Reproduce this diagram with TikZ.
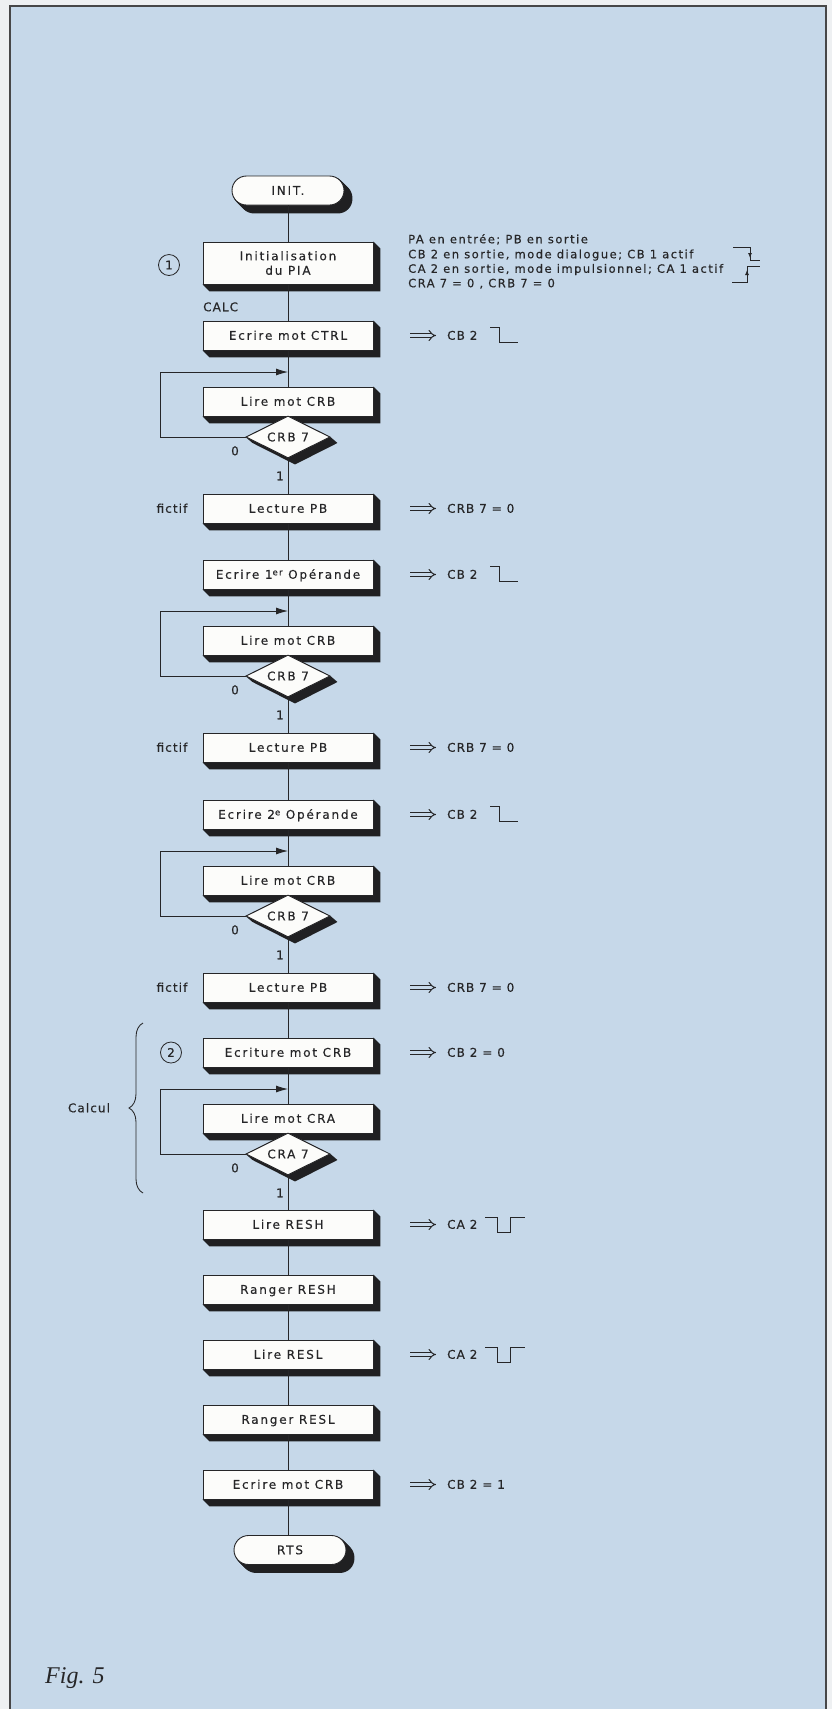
\documentclass[tikz,border=0pt]{standalone}
\usepackage{fontspec}
\setmainfont[LetterSpace=9,FakeBold=0.35]{DejaVu Sans}
\newfontfamily\boxfont[LetterSpace=15,FakeBold=0.35]{DejaVu Sans}
\newfontfamily\notefont[LetterSpace=13,FakeBold=0.35]{DejaVu Sans}
\newfontfamily\figfont{Liberation Serif}
\usetikzlibrary{shapes.geometric,arrows.meta,decorations.pathreplacing,calc}
\pgfdeclarelayer{bgfill}
\pgfdeclarelayer{shadowlayer}
\pgfsetlayers{bgfill,shadowlayer,main}
\definecolor{bgblue}{RGB}{198,216,233}
\definecolor{outsidec}{RGB}{238,240,242}
\definecolor{ink}{RGB}{38,38,40}
\definecolor{shadowc}{RGB}{32,32,34}
\definecolor{paper}{RGB}{252,252,250}
\newcommand\boxshadow[1]{%
  \begin{pgfonlayer}{shadowlayer}
  \fill[shadowc] (#1.north east) -- ++(7,7) -- ($(#1.south east)+(7,7)$) -- ($(#1.south west)+(7,7)$) -- (#1.south west) -- (#1.south east) -- cycle;
  \end{pgfonlayer}}
\newcommand\decshadow[1]{%
  \begin{pgfonlayer}{shadowlayer}
  \fill[shadowc] (#1.north) -- (#1.east) -- ($(#1.east)+(7,6)$) -- ($(#1.south)+(7,6)$) -- ($(#1.west)+(7,6)$) -- (#1.west) -- cycle;
  \end{pgfonlayer}}
\newcommand\termshadow[1]{%
  \begin{pgfonlayer}{shadowlayer}
  \foreach \s in {1,...,8}{\fill[shadowc, rounded corners=14.5pt] ($(#1.north west)+(\s,\s)$) rectangle ($(#1.south east)+(\s,\s)$);}
  \end{pgfonlayer}}
\begin{document}
\begin{tikzpicture}[x=1pt,y=-1pt,
  font=\fontsize{12}{15}\selectfont,
  proc/.style={draw=ink, line width=0.9pt, fill=paper, minimum width=170pt, minimum height=29pt, inner sep=0pt, text=ink, text height=8.5pt, text depth=0pt, font=\boxfont\fontsize{12}{15}\selectfont},
  term/.style={proc, minimum width=112pt, minimum height=29pt, rounded corners=14.5pt},
  dec/.style={draw=ink, line width=0.9pt, fill=paper, shape=diamond, aspect=2, minimum width=84pt, minimum height=42pt, inner sep=0pt, text=ink, font=\boxfont\fontsize{12}{15}\selectfont},
  conn/.style={draw=ink, line width=0.85pt},
  loopar/.style={conn, -{Latex[length=12pt,width=7pt]}},
  smallar/.style={conn, -{Latex[length=5pt,width=4pt]}},
  lbl/.style={text=ink, inner sep=0pt, text height=8.5pt, text depth=0pt},
  note/.style={lbl, font=\notefont\fontsize{11.5}{14}\selectfont},
  circnum/.style={circle, draw=ink, line width=0.8pt, minimum size=21pt, inner sep=0pt, text=ink},
  frame/.style={draw=ink!85, line width=2pt},
  implarrow/.pic={\draw[draw=ink, line width=1pt, double=bgblue, double distance=2.8pt, -{Implies}] (-13,0) -- (13,0);},
  fallwave/.pic={\draw[conn] (0,-8) -- (9,-8) -- (9,7) -- (28,7);},
  pulsewave/.pic={\draw[conn] (0,-7.5) -- (12,-7.5) -- (12,7.5) -- (25,7.5) -- (25,-7.5) -- (40,-7.5);}
]
\useasboundingbox (0,0) rectangle (832,1709);
\begin{pgfonlayer}{bgfill}
  \fill[outsidec] (0,0) rectangle (832,1709);
  \fill[bgblue] (10,6) rectangle (826,1709);
\end{pgfonlayer}
\draw[frame] (10,1712) -- (10,6) -- (826,6) -- (826,1712);

% start
\node[term] (init) at (288,190.5) {INIT.};
\termshadow{init}
\node[proc, minimum height=42pt, align=center, text height=, text depth=, font=\boxfont\fontsize{12}{14.5}\selectfont] (pia) at (288,263) {Initialisation\\du PIA};
\boxshadow{pia}
\node[circnum] (c1) at (169,265) {1};
\node[lbl, anchor=west] (calc) at (203,307) {CALC};
\draw[conn] (init) -- (pia);

% annotation of the initialisation
\node[note, anchor=west] (n1) at (408,239) {PA en entrée;  PB en sortie};
\node[note, anchor=west] (n2) at (408,254) {CB 2 en sortie, mode dialogue; CB 1 actif};
\node[note, anchor=west] (n3) at (408,268.5) {CA 2 en sortie, mode impulsionnel; CA 1 actif};
\node[note, anchor=west] (n4) at (408,283) {CRA 7 = 0 , CRB 7 = 0};
\draw[conn] (733,247) -- (750,247) -- (750,260) -- (760,260);
\draw[smallar] (750,249) -- (750,258);
\draw[conn] (732,282) -- (747,282) -- (747,266) -- (760,266);
\draw[smallar] (747,280) -- (747,270);

% three write / wait / read blocks
\foreach \k/\T/\txt in {1/321/{Ecrire mot CTRL},2/560/{Ecrire 1\raisebox{3.5pt}{\fontsize{8.5}{8.5}\selectfont er} Opérande},3/800/{Ecrire 2\raisebox{3.5pt}{\fontsize{8.5}{8.5}\selectfont e} Opérande}}{
  \node[proc] (e\k) at (288,\T+14.5) {\txt};
  \node[proc] (l\k) at (288,\T+80.5) {Lire mot CRB};
  \boxshadow{e\k}
  \boxshadow{l\k}
  \node[dec] (d\k) at (288,\T+116) {CRB 7};
  \decshadow{d\k}
  \node[proc] (r\k) at (288,\T+187.5) {Lecture PB};
  \boxshadow{r\k}
  \coordinate (j\k) at (288,\T+51);
  \coordinate (lp\k) at (160,\T+51);
  \draw[conn] (e\k) -- (l\k);
  \draw[conn] (d\k) -- (r\k);
  \draw[loopar] (d\k.west) -| (lp\k) -- (j\k);
  \node[lbl] (z\k) at (235,\T+130) {0};
  \node[lbl] (o\k) at (280,\T+155) {1};
  \node[lbl] (f\k) at (172,\T+187.5) {fictif};
  \pic at (423,\T+14.5) {implarrow};
  \node[lbl, anchor=west] (te\k) at (447,\T+14.5) {CB 2};
  \pic at (490,\T+14.5) {fallwave};
  \pic at (423,\T+187.5) {implarrow};
  \node[lbl, anchor=west] (tr\k) at (447,\T+187.5) {CRB 7 = 0};
}
\draw[conn] (pia) -- (e1);
\draw[conn] (r1) -- (e2);
\draw[conn] (r2) -- (e3);

% calculation block
\node[proc] (e4) at (288,1052.5) {Ecriture mot CRB};
\node[proc] (l4) at (288,1118.5) {Lire mot CRA};
\boxshadow{e4}
\boxshadow{l4}
\node[dec] (d4) at (288,1154) {CRA 7};
\decshadow{d4}
\coordinate (j4) at (288,1089);
\coordinate (lp4) at (160,1089);
\draw[conn] (r3) -- (e4);
\draw[conn] (e4) -- (l4);
\draw[loopar] (d4.west) -| (lp4) -- (j4);
\node[lbl] (z4) at (235,1168) {0};
\node[lbl] (o4) at (280,1193) {1};
\node[circnum] (c2) at (171,1052.5) {2};
\pic at (423,1052.5) {implarrow};
\node[lbl, anchor=west] (te4) at (447,1052.5) {CB 2 = 0};
\coordinate (bra) at (143,1193);
\coordinate (brb) at (143,1023);
\draw[conn, decorate, decoration={brace, amplitude=14pt}] (bra) -- (brb);
\node[lbl] (calcul) at (89,1108) {Calcul};

% results
\node[proc] (resh) at (288,1224.5) {Lire RESH};
\node[proc] (rangh) at (288,1289.5) {Ranger RESH};
\node[proc] (resl) at (288,1354.5) {Lire RESL};
\node[proc] (rangl) at (288,1419.5) {Ranger RESL};
\node[proc] (ecrb) at (288,1484.5) {Ecrire mot CRB};
\node[term] (rts) at (290,1550) {RTS};
\boxshadow{resh}
\boxshadow{rangh}
\boxshadow{resl}
\boxshadow{rangl}
\boxshadow{ecrb}
\termshadow{rts}
\draw[conn] (d4) -- (resh);
\draw[conn] (resh) -- (rangh);
\draw[conn] (rangh) -- (resl);
\draw[conn] (resl) -- (rangl);
\draw[conn] (rangl) -- (ecrb);
\draw[conn] (ecrb.south) -- (ecrb.south |- rts.north);

\pic at (423,1224.5) {implarrow};
\node[lbl, anchor=west] (t5) at (447,1224.5) {CA 2};
\pic at (485,1224.5) {pulsewave};
\pic at (423,1354.5) {implarrow};
\node[lbl, anchor=west] (t6) at (447,1354.5) {CA 2};
\pic at (485,1354.5) {pulsewave};
\pic at (423,1484.5) {implarrow};
\node[lbl, anchor=west] (t7) at (447,1484.5) {CB 2 = 1};

\node[anchor=base west, inner sep=0pt, text=ink, font=\figfont\fontsize{24}{24}\selectfont\itshape] (fig) at (45,1683) {Fig. 5};
\end{tikzpicture}
\end{document}
